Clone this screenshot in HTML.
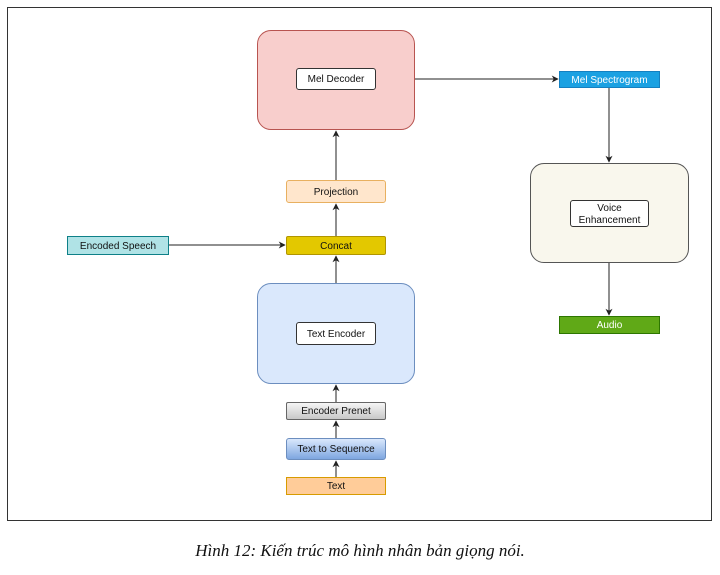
<!DOCTYPE html>
<html><head><meta charset="utf-8"><style>
body{margin:0;width:720px;height:575px;background:#fff;position:relative;font-family:"Liberation Sans",sans-serif;overflow:hidden}
.b{position:absolute;box-sizing:border-box;display:flex;align-items:center;justify-content:center;text-align:center;font-size:10px;color:#111;line-height:12px;padding-top:2px}
.frame{position:absolute;left:7px;top:7px;width:705px;height:514px;border:1px solid #333;box-sizing:border-box}
.cap{position:absolute;left:0;width:720px;top:541px;text-align:center;font-family:"Liberation Serif",serif;font-style:italic;font-size:17px;color:#111}
</style></head><body>
<div class="frame"></div>
<div class="b" style="left:257px;top:30px;width:158px;height:100px;background:#f8cecc;border:1px solid #b85450;border-radius:14px"></div>
<div class="b" style="left:296px;top:68px;width:80px;height:22px;background:#fff;border:1px solid #333;border-radius:3px">Mel Decoder</div>
<div class="b" style="left:559px;top:71px;width:101px;height:17px;background:#1ba1e2;border:1px solid #1580c0;color:#fff">Mel Spectrogram</div>
<div class="b" style="left:530px;top:163px;width:159px;height:100px;background:#f9f7ed;border:1px solid #555;border-radius:14px"></div>
<div class="b" style="left:570px;top:200px;width:79px;height:27px;background:#fff;border:1px solid #333;border-radius:3px">Voice<br>Enhancement</div>
<div class="b" style="left:559px;top:316px;width:101px;height:18px;background:#60a917;border:1px solid #2d7600;color:#fff">Audio</div>
<div class="b" style="left:286px;top:180px;width:100px;height:23px;background:#ffe6cc;border:1px solid #e8b060;border-radius:3px">Projection</div>
<div class="b" style="left:286px;top:236px;width:100px;height:19px;background:#e3c800;border:1px solid #b09500;border-radius:2px">Concat</div>
<div class="b" style="left:67px;top:236px;width:102px;height:19px;background:#b0e3e6;border:1px solid #0e8088">Encoded Speech</div>
<div class="b" style="left:257px;top:283px;width:158px;height:101px;background:#dae8fc;border:1px solid #6c8ebf;border-radius:14px"></div>
<div class="b" style="left:296px;top:322px;width:80px;height:23px;background:#fff;border:1px solid #333;border-radius:3px">Text Encoder</div>
<div class="b" style="left:286px;top:402px;width:100px;height:18px;background:linear-gradient(#f5f5f5,#c8c8c8);border:1px solid #666;border-radius:2px">Encoder Prenet</div>
<div class="b" style="left:286px;top:438px;width:100px;height:22px;background:linear-gradient(#dae8fc,#7ea6e0);border:1px solid #6c8ebf;border-radius:3px">Text to Sequence</div>
<div class="b" style="left:286px;top:477px;width:100px;height:18px;background:#ffcc99;border:1px solid #d79b00">Text</div>
<svg width="720" height="575" style="position:absolute;left:0;top:0" fill="none" stroke="#222" stroke-width="1">
<defs><marker id="a" viewBox="0 0 10 10" refX="9" refY="5" markerWidth="7" markerHeight="7" orient="auto"><path d="M0,0L10,5L0,10L3,5z" fill="#222" stroke="none"/></marker></defs>
<line x1="415" y1="79" x2="558" y2="79" marker-end="url(#a)"/>
<line x1="609" y1="88" x2="609" y2="162" marker-end="url(#a)"/>
<line x1="609" y1="263" x2="609" y2="315" marker-end="url(#a)"/>
<line x1="336" y1="180" x2="336" y2="131" marker-end="url(#a)"/>
<line x1="336" y1="236" x2="336" y2="204" marker-end="url(#a)"/>
<line x1="169" y1="245" x2="285" y2="245" marker-end="url(#a)"/>
<line x1="336" y1="283" x2="336" y2="256" marker-end="url(#a)"/>
<line x1="336" y1="402" x2="336" y2="385" marker-end="url(#a)"/>
<line x1="336" y1="438" x2="336" y2="421" marker-end="url(#a)"/>
<line x1="336" y1="477" x2="336" y2="461" marker-end="url(#a)"/>
</svg>
<div class="cap">Hình 12: Kiến trúc mô hình nhân bản giọng nói.</div>
</body></html>
